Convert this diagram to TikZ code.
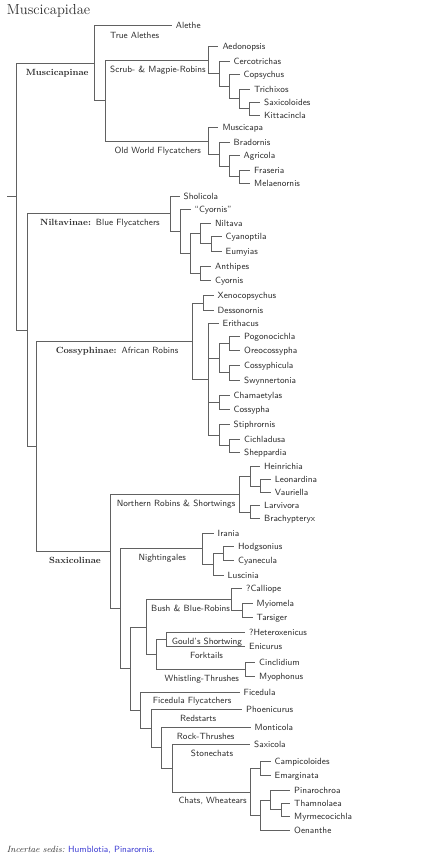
\documentclass[tikz,border=0pt]{standalone}
\usepackage{fontspec}
\definecolor{linkblue}{RGB}{60,60,210}
\definecolor{ink}{RGB}{45,45,45}
\begin{document}
\begin{tikzpicture}[x=1pt,y=-1pt,
  br/.style={draw=black!62,line width=0.75pt},
  leaf/.style={anchor=west,inner xsep=4pt,inner ysep=0pt,text height=6.4pt,text depth=0pt,
    font=\sffamily\fontsize{9}{11}\selectfont,text=ink},
  clade/.style={anchor=west,inner sep=0pt,text height=6.4pt,text depth=0pt,
    font=\sffamily\fontsize{9}{11}\selectfont,text=ink},
  subfam/.style={anchor=west,inner sep=0pt,text height=6.4pt,text depth=0pt,
    font=\rmfamily\bfseries\fontsize{9}{11}\selectfont,text=ink}]
\useasboundingbox (0,0) rectangle (420,858);

% title
\node[anchor=base west,inner sep=0pt,font=\rmfamily\fontsize{14.5}{17}\selectfont,text=ink] (title) at (6.7,15) {Muscicapidae};

% leaves
\node[leaf] (ale) at (171.7,25.7) {Alethe};
\node[leaf] (aed) at (218.3,46.7) {Aedonopsis};
\node[leaf] (cer) at (229.5,61) {Cercotrichas};
\node[leaf] (cop) at (239.5,74.3) {Copsychus};
\node[leaf] (tri) at (250,89) {Trichixos};
\node[leaf] (sxl) at (260,102) {Saxicoloides};
\node[leaf] (kit) at (260,115) {Kittacincla};
\node[leaf] (mus) at (218.3,127.7) {Muscicapa};
\node[leaf] (bra) at (229.5,142.7) {Bradornis};
\node[leaf] (agr) at (239.5,155.3) {Agricola};
\node[leaf] (fra) at (250,170.3) {Fraseria};
\node[leaf] (mel) at (250,183) {Melaenornis};
\node[leaf] (sho) at (179.5,196) {Sholicola};
\node[leaf] (qcy) at (190.5,209) {``Cyornis''};
\node[leaf] (nil) at (211,223.3) {Niltava};
\node[leaf] (cya) at (221.5,236.7) {Cyanoptila};
\node[leaf] (eum) at (221.5,251) {Eumyias};
\node[leaf] (ant) at (211,266) {Anthipes};
\node[leaf] (cyo) at (211,280.7) {Cyornis};
\node[leaf] (xen) at (213.5,295.7) {Xenocopsychus};
\node[leaf] (des) at (213.5,310.5) {Dessonornis};
\node[leaf] (eri) at (218.5,323.3) {Erithacus};
\node[leaf] (pog) at (240,336) {Pogonocichla};
\node[leaf] (ore) at (240,350.7) {Oreocossypha};
\node[leaf] (csc) at (240,365.7) {Cossyphicula};
\node[leaf] (swy) at (240,380) {Swynnertonia};
\node[leaf] (cha) at (229.5,395) {Chamaetylas};
\node[leaf] (csp) at (229.5,409.7) {Cossypha};
\node[leaf] (sti) at (229.5,424.3) {Stiphrornis};
\node[leaf] (cic) at (240,439) {Cichladusa};
\node[leaf] (she) at (240,452) {Sheppardia};
\node[leaf] (hei) at (260,466.7) {Heinrichia};
\node[leaf] (leo) at (270.7,479.7) {Leonardina};
\node[leaf] (vau) at (270.7,492.7) {Vauriella};
\node[leaf] (lar) at (260,505.7) {Larvivora};
\node[leaf] (brx) at (260,518.3) {Brachypteryx};
\node[leaf] (ira) at (213.5,533) {Irania};
\node[leaf] (hod) at (234,546) {Hodgsonius};
\node[leaf] (cye) at (234,560.7) {Cyanecula};
\node[leaf] (lus) at (223.5,575.3) {Luscinia};
\node[leaf] (cal) at (242,588.7) {?Calliope};
\node[leaf] (myi) at (252.5,603.3) {Myiomela};
\node[leaf] (tar) at (252.5,617.3) {Tarsiger};
\node[leaf] (het) at (245,632.3) {?Heteroxenicus};
\node[leaf] (eni) at (245,646.7) {Enicurus};
\node[leaf] (cin) at (255,662.7) {Cinclidium};
\node[leaf] (myo) at (255,676) {Myophonus};
\node[leaf] (fic) at (239.5,692) {Ficedula};
\node[leaf] (pho) at (242,709.5) {Phoenicurus};
\node[leaf] (mon) at (250.5,727.2) {Monticola};
\node[leaf] (sxc) at (250,744.7) {Saxicola};
\node[leaf] (cam) at (270.5,761.3) {Campicoloides};
\node[leaf] (ema) at (270.5,775.7) {Emarginata};
\node[leaf] (pin) at (290,790.3) {Pinarochroa};
\node[leaf] (tha) at (290,803.3) {Thamnolaea};
\node[leaf] (myr) at (290,816.3) {Myrmecocichla};
\node[leaf] (oen) at (290,830.7) {Oenanthe};

% internal nodes
\coordinate (R0) at (7,196.5);
\coordinate (R) at (16.7,196.5);
\coordinate (MUS) at (94.3,63.15);
\coordinate (SO) at (105,100.6);
\coordinate (SMR) at (208.3,60.2);
\coordinate (CC) at (219,73.75);
\coordinate (CTSK) at (229.3,86.5);
\coordinate (TSK) at (239.3,98.75);
\coordinate (SK) at (249.3,108.5);
\coordinate (OWF) at (208.3,141.02);
\coordinate (BAFM) at (219,154.34);
\coordinate (AFM) at (229.3,165.98);
\coordinate (FM) at (239.3,176.65);
\coordinate (A1) at (27,329.9);
\coordinate (NIL) at (170,213.6);
\coordinate (QC) at (180,231.23);
\coordinate (NA) at (190,253.46);
\coordinate (NCE) at (200,233.58);
\coordinate (CE) at (211,243.85);
\coordinate (AC) at (200,273.35);
\coordinate (A2) at (36.7,446.25);
\coordinate (COS) at (192.7,341.1);
\coordinate (XD) at (203.3,303.1);
\coordinate (ER) at (208.3,379.1);
\coordinate (POCS) at (219,358.1);
\coordinate (PO) at (229.3,343.35);
\coordinate (CS) at (229.3,372.85);
\coordinate (CCt) at (219,402.35);
\coordinate (SCS) at (219,434.9);
\coordinate (CSh) at (229.3,445.5);
\coordinate (SAX) at (110,551.4);
\coordinate (NRS) at (239.3,494.2);
\coordinate (HLV) at (250,476.45);
\coordinate (LV) at (260.3,486.2);
\coordinate (LB) at (250,512);
\coordinate (NGL) at (120,608.6);
\coordinate (NIG) at (202.7,548.65);
\coordinate (HCL) at (213.3,564.3);
\coordinate (HC) at (223.3,553.35);
\coordinate (LOW) at (130,668.6);
\coordinate (BHE) at (146,626.95);
\coordinate (BBR) at (231.7,599.5);
\coordinate (MT) at (242.3,610.3);
\coordinate (HECM) at (156,654.4);
\coordinate (HE) at (166.7,639.5);
\coordinate (CM) at (245,669.35);
\coordinate (FF) at (140,710.3);
\coordinate (RS) at (151.7,728.6);
\coordinate (RT) at (161.7,747.75);
\coordinate (STN) at (172.3,768.3);
\coordinate (CW) at (250,791.95);
\coordinate (CEm) at (260,768.5);
\coordinate (PTMO) at (260,815.4);
\coordinate (PTM) at (270.7,800.05);
\coordinate (TM) at (281,809.8);

% branches
\draw[br] (R0) -- (R) (R) |- (MUS) (R) |- (A1);
\draw[br] (MUS) |- (ale.west) (MUS) |- (SO);
\draw[br] (SO) |- (SMR) (SO) |- (OWF);
\draw[br] (SMR) |- (aed.west) (SMR) |- (CC);
\draw[br] (CC) |- (cer.west) (CC) |- (CTSK);
\draw[br] (CTSK) |- (cop.west) (CTSK) |- (TSK);
\draw[br] (TSK) |- (tri.west) (TSK) |- (SK);
\draw[br] (SK) |- (sxl.west) (SK) |- (kit.west);
\draw[br] (OWF) |- (mus.west) (OWF) |- (BAFM);
\draw[br] (BAFM) |- (bra.west) (BAFM) |- (AFM);
\draw[br] (AFM) |- (agr.west) (AFM) |- (FM);
\draw[br] (FM) |- (fra.west) (FM) |- (mel.west);
\draw[br] (A1) |- (NIL) (A1) |- (A2);
\draw[br] (NIL) |- (sho.west) (NIL) |- (QC);
\draw[br] (QC) |- (qcy.west) (QC) |- (NA);
\draw[br] (NA) |- (NCE) (NA) |- (AC);
\draw[br] (NCE) |- (nil.west) (NCE) |- (CE);
\draw[br] (CE) |- (cya.west) (CE) |- (eum.west);
\draw[br] (AC) |- (ant.west) (AC) |- (cyo.west);
\draw[br] (A2) |- (COS) (A2) |- (SAX);
\draw[br] (COS) |- (XD) (COS) |- (ER);
\draw[br] (XD) |- (xen.west) (XD) |- (des.west);
\draw[br] (ER) |- (eri.west) (ER) |- (POCS) (ER) |- (CCt) (ER) |- (SCS);
\draw[br] (POCS) |- (PO) (POCS) |- (CS);
\draw[br] (PO) |- (pog.west) (PO) |- (ore.west);
\draw[br] (CS) |- (csc.west) (CS) |- (swy.west);
\draw[br] (CCt) |- (cha.west) (CCt) |- (csp.west);
\draw[br] (SCS) |- (sti.west) (SCS) |- (CSh);
\draw[br] (CSh) |- (cic.west) (CSh) |- (she.west);
\draw[br] (SAX) |- (NRS) (SAX) |- (NGL);
\draw[br] (NRS) |- (HLV) (NRS) |- (LB);
\draw[br] (HLV) |- (hei.west) (HLV) |- (LV);
\draw[br] (LV) |- (leo.west) (LV) |- (vau.west);
\draw[br] (LB) |- (lar.west) (LB) |- (brx.west);
\draw[br] (NGL) |- (NIG) (NGL) |- (LOW);
\draw[br] (NIG) |- (ira.west) (NIG) |- (HCL);
\draw[br] (HCL) |- (HC) (HCL) |- (lus.west);
\draw[br] (HC) |- (hod.west) (HC) |- (cye.west);
\draw[br] (LOW) |- (BHE) (LOW) |- (FF);
\draw[br] (BHE) |- (BBR) (BHE) |- (HECM);
\draw[br] (BBR) |- (cal.west) (BBR) |- (MT);
\draw[br] (MT) |- (myi.west) (MT) |- (tar.west);
\draw[br] (HECM) |- (HE) (HECM) |- (CM);
\draw[br] (HE) |- (het.west) (HE) |- (eni.west);
\draw[br] (CM) |- (cin.west) (CM) |- (myo.west);
\draw[br] (FF) |- (fic.west) (FF) |- (RS);
\draw[br] (RS) |- (pho.west) (RS) |- (RT);
\draw[br] (RT) |- (mon.west) (RT) |- (STN);
\draw[br] (STN) |- (sxc.west) (STN) |- (CW);
\draw[br] (CW) |- (CEm) (CW) |- (PTMO);
\draw[br] (CEm) |- (cam.west) (CEm) |- (ema.west);
\draw[br] (PTMO) |- (PTM) (PTMO) |- (oen.west);
\draw[br] (PTM) |- (pin.west) (PTM) |- (TM);
\draw[br] (TM) |- (tha.west) (TM) |- (myr.west);

% clade labels
\node[subfam] (lmus) at (25.7,72.5) {Muscicapinae};
\node[clade] (lal) at (110,35) {True Alethes};
\node[clade] (lsm) at (110,69.5) {Scrub- \& Magpie-Robins};
\node[clade] (low) at (114.3,150) {Old World Flycatchers};
\node[clade] (lnil) at (40,222.7) {{\rmfamily\bfseries Niltavinae:}\hspace{5pt}Blue Flycatchers};
\node[clade] (lcos) at (55.7,350) {{\rmfamily\bfseries Cossyphinae:}\hspace{5pt}African Robins};
\node[subfam] (lsax) at (49,560.7) {Saxicolinae};
\node[clade] (lnr) at (116.7,503.3) {Northern Robins \& Shortwings};
\node[clade] (lng) at (138.3,557.7) {Nightingales};
\node[clade] (lbb) at (151,608.3) {Bush \& Blue-Robins};
\node[clade] (lgs) at (171.7,641.7) {Gould's Shortwing};
\node[clade] (lfk) at (190,655.7) {Forktails};
\node[clade] (lwt) at (164.3,678.7) {Whistling-Thrushes};
\node[clade] (lff) at (152.7,700.7) {Ficedula Flycatchers};
\node[clade] (lrs) at (180,718.3) {Redstarts};
\node[clade] (lrt) at (176.7,736) {Rock-Thrushes};
\node[clade] (lst) at (190.7,753.3) {Stonechats};
\node[clade] (lcw) at (178.3,800.7) {Chats, Wheatears};

% incertae sedis
\node[clade] (inc) at (6.7,849.3) {{\rmfamily\itshape Incertae sedis:}\hspace{3.5pt}{\color{linkblue}Humblotia, Pinarornis.}};
\end{tikzpicture}
\end{document}
